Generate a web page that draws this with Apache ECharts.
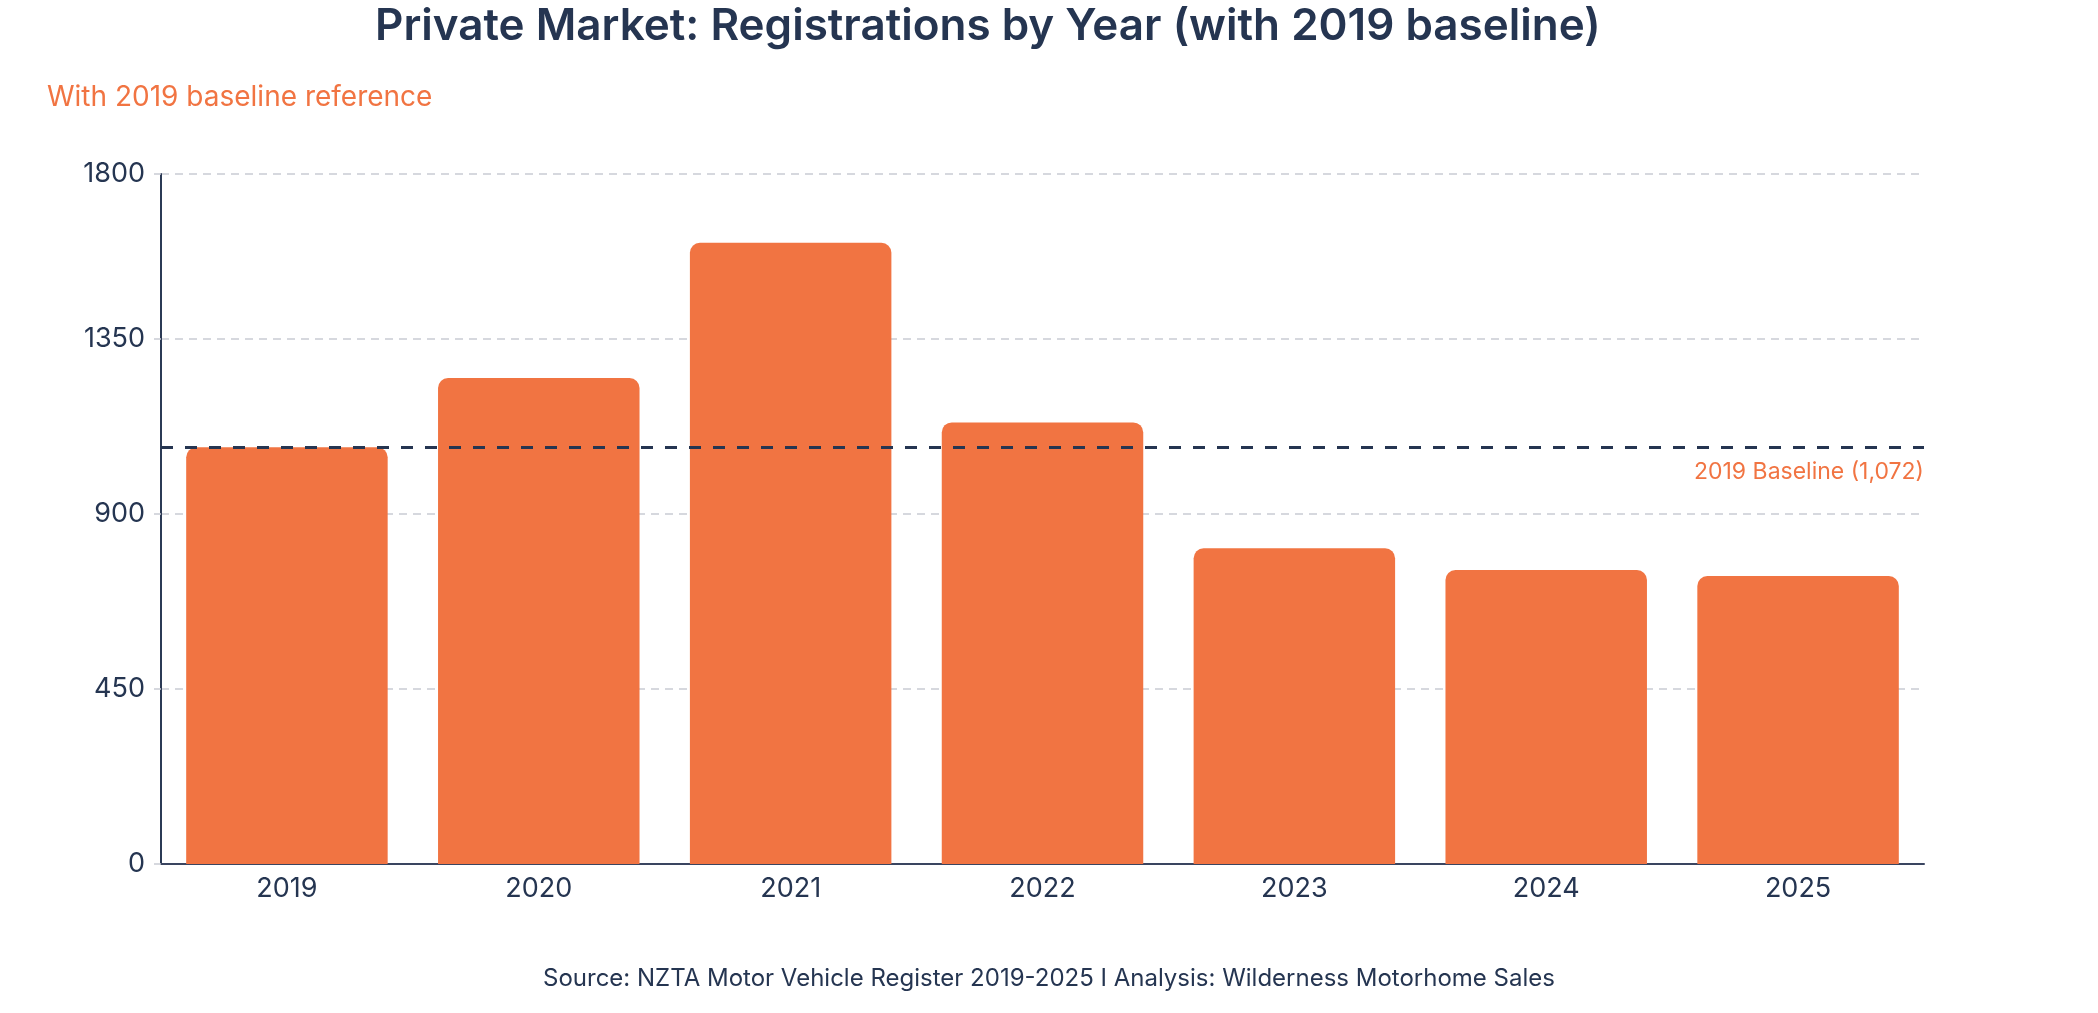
<!DOCTYPE html>
<html>
<head>
<meta charset="utf-8">
<title>Private Market: Registrations by Year</title>
<script src="https://cdn.jsdelivr.net/npm/echarts@6/dist/echarts.min.js"></script>
<style>
  html, body { margin: 0; padding: 0; background: #fff; }
  #chart { width: 2098px; height: 1013px; }
</style>
</head>
<body>
<div id="chart"></div>
<script>
// data
const years = ['2019', '2020', '2021', '2022', '2023', '2024', '2025']
const registrations = [1072, 1250, 1598, 1136, 812, 756, 741]
const baseline = 1072
const baselineLabel = '2019 Baseline (1,072)'
const yTickStep = 450
const yTop = 1775

const NAVY = '#253551'
const ORANGE = '#F17442'
const FONT = 'Inter'

const chart = echarts.init(document.getElementById('chart'))

const option = {
  backgroundColor: '#fff',
  textStyle: { fontFamily: FONT },
  title: [
    {
      text: 'Private Market: Registrations by Year (with 2019 baseline)',
      left: 370,
      top: 0,
      textStyle: { color: NAVY, fontSize: 44, fontWeight: 600, fontFamily: FONT }
    },
    {
      text: 'With 2019 baseline reference',
      left: 42,
      top: 79,
      textStyle: { color: ORANGE, fontSize: 28, fontWeight: 400, fontFamily: FONT }
    },
    {
      text: 'Source: NZTA Motor Vehicle Register 2019-2025 I Analysis: Wilderness Motorhome Sales',
      left: 'center',
      top: 962,
      textStyle: { color: NAVY, fontSize: 24, fontWeight: 400, fontFamily: FONT }
    }
  ],
  grid: { left: 161, right: 174, top: 174, bottom: 149, containLabel: false },
  xAxis: {
    type: 'category',
    data: years,
    axisLine: { lineStyle: { color: '#3a4560', width: 2 } },
    axisTick: { show: false },
    axisLabel: { color: NAVY, fontSize: 27, margin: 11, fontFamily: FONT }
  },
  yAxis: {
    type: 'value',
    min: 0,
    max: yTop,
    interval: yTickStep,
    axisLine: { show: true, lineStyle: { color: '#2b3a55', width: 2 } },
    axisTick: { show: true, length: 7, lineStyle: { color: '#c9ccd3', width: 1.5 } },
    axisLabel: {
      color: NAVY,
      fontSize: 27,
      margin: 16,
      fontFamily: FONT,
      formatter: v => String(Math.round(v / yTickStep) * yTickStep)
    },
    splitLine: { lineStyle: { color: '#c9ccd3', width: 1.5, type: [8, 6] } }
  },
  series: [
    {
      type: 'bar',
      data: registrations,
      barWidth: '80%',
      z: 3,
      itemStyle: { color: ORANGE, borderRadius: [10, 10, 0, 0] }
    },
    {
      // holder for the baseline reference line, drawn under the bars
      type: 'line',
      data: [],
      z: 1,
      silent: true,
      markLine: {
        symbol: 'none',
        silent: true,
        lineStyle: { color: NAVY, width: 3, type: [12, 12] },
        label: {
          show: true,
          position: 'insideEndBottom',
          formatter: baselineLabel,
          color: ORANGE,
          fontSize: 23,
          fontFamily: FONT,
          distance: [0, 13]
        },
        data: [{ yAxis: baseline }]
      }
    }
  ]
}

chart.setOption(option)
</script>
</body>
</html>
